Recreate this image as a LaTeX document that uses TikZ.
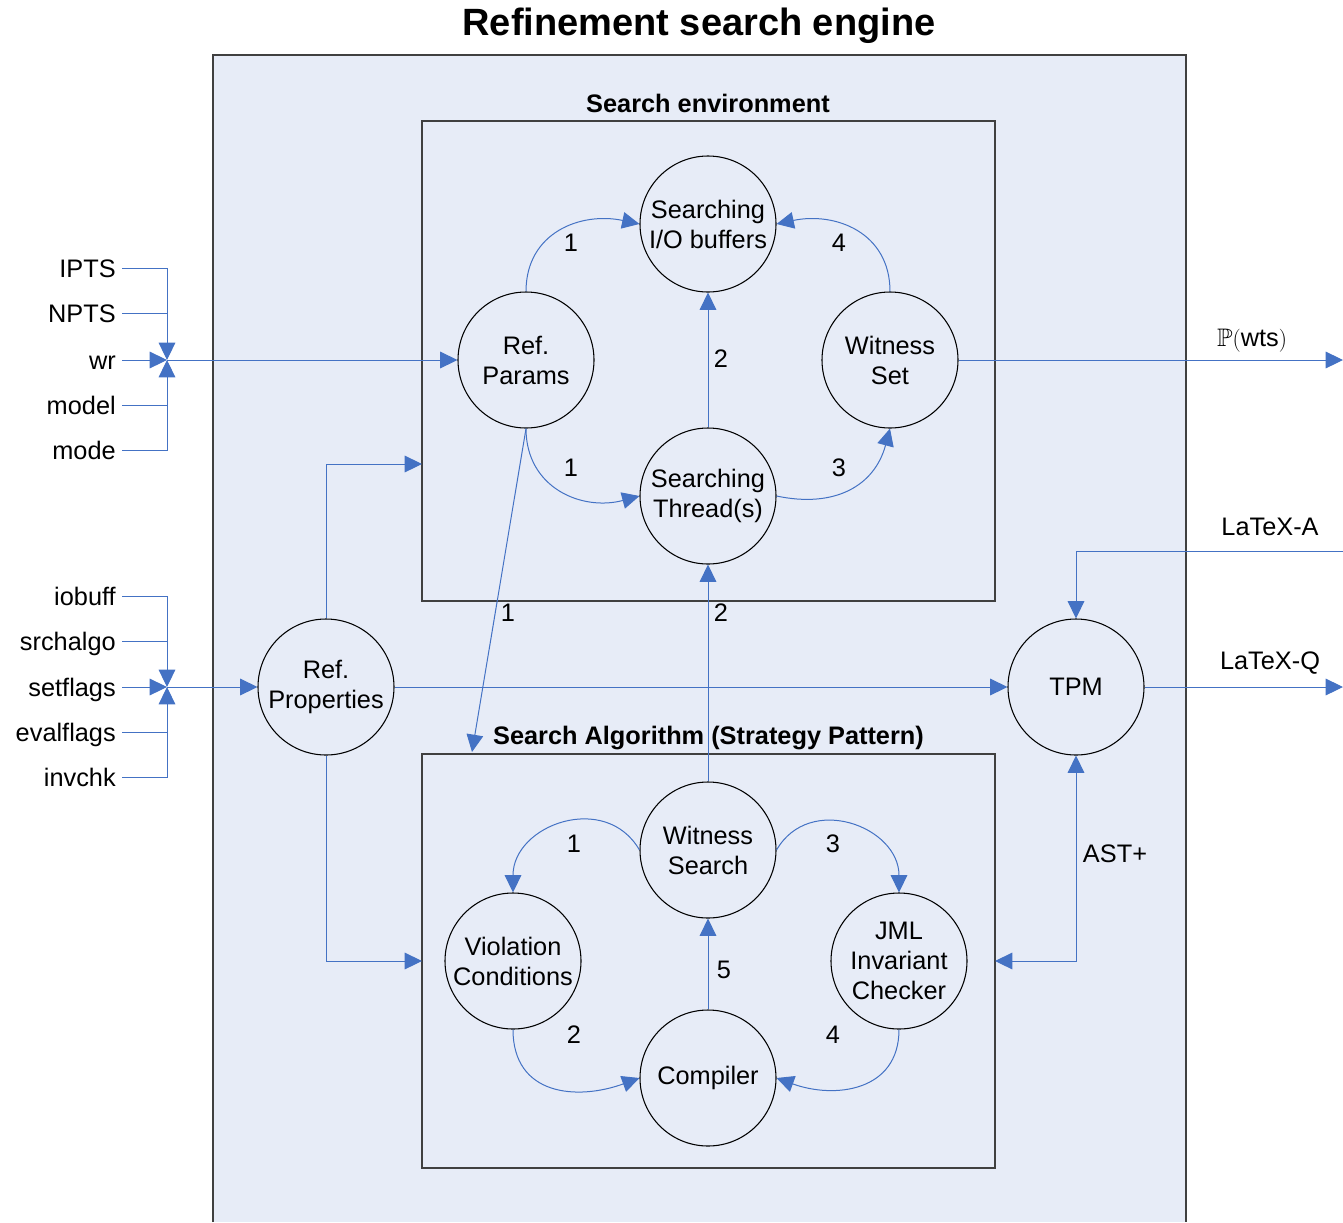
\documentclass[tikz,border=0pt]{standalone}
\usepackage{fontspec}
\usepackage{amssymb}
\setmainfont{Liberation Sans}
\usetikzlibrary{arrows.meta,calc}
\definecolor{panel}{RGB}{231,236,247}
\definecolor{flow}{RGB}{68,114,196}
\definecolor{frame}{RGB}{64,64,64}

\begin{document}
\begin{tikzpicture}[x=0.75pt,y=-0.75pt,
  every node/.style={font=\fontsize{19}{22.5}\selectfont},
  proc/.style={circle,draw=black,line width=0.8pt,minimum size=102pt,inner sep=0pt,align=center},
  area/.style={draw=frame,line width=0.8pt,minimum width=429.75pt,inner sep=0pt},
  heading/.style={font=\fontsize{19}{22.5}\selectfont\bfseries},
  flowline/.style={draw=flow,line width=0.75pt},
  >={Triangle[length=13pt,width=12.5pt]},
  inlab/.style={anchor=east,inner xsep=4.5pt,inner ysep=0pt,text height=13.6pt,text depth=0pt},
  num/.style={inner sep=0pt}
]
\useasboundingbox (0,0) rectangle (1343,1222);

% engine panel (open at the bottom)
\fill[panel] (213,55) rectangle (1186,1222);
\draw[frame,line width=0.8pt] (213,1222) -- (213,55) -- (1186,55) -- (1186,1222);
\node[font=\fontsize{28.5}{32}\selectfont\bfseries] (title) at (699,26) {Refinement search engine};

% sub-areas
\node[area,minimum height=360pt] (env) at (708.5,361) {};
\node[area,minimum height=310.5pt] (alg) at (708.5,961) {};
\node[heading] (envtitle) at (708,103) {Search environment};
\node[heading] (algtitle) at (708.5,738) {Search Algorithm (Strategy Pattern)};

% processes of the search environment
\node[proc] (io) at (708,224) {Searching\\I/O buffers};
\node[proc] (rp) at (526,360) {Ref.\\Params};
\node[proc] (ws) at (890,360) {Witness\\Set};
\node[proc] (th) at (708,496) {Searching\\Thread(s)};

% processes of the search algorithm
\node[proc] (wsr) at (708,850) {Witness\\Search};
\node[proc] (vc) at (513,961) {Violation\\Conditions};
\node[proc] (jml) at (899,961) {JML\\Invariant\\Checker};
\node[proc] (comp) at (708,1078) {Compiler};

% outer processes
\node[proc] (rprop) at (326,687) {Ref.\\Properties};
\node[proc] (tpm) at (1076,687) {TPM};

% parameter inputs
\node[inlab] (ipts) at (122,268) {IPTS};
\node[inlab] (npts) at (122,313) {NPTS};
\node[inlab] (wr) at (122,360) {wr};
\node[inlab] (model) at (122,405) {model};
\node[inlab] (mode) at (122,450) {mode};
\coordinate (j1) at (167,360);

\node[inlab] (iobuff) at (122,596) {iobuff};
\node[inlab] (srchalgo) at (122,641) {srchalgo};
\node[inlab] (setflags) at (122,687) {setflags};
\node[inlab] (evalflags) at (122,732) {evalflags};
\node[inlab] (invchk) at (122,777) {invchk};
\coordinate (j2) at (167,687);

\draw[flowline,->] (ipts.east) -| (j1);
\draw[flowline] (npts.east) -- (npts.east -| j1);
\draw[flowline,->] (wr.east) -- (j1);
\draw[flowline] (model.east) -- (model.east -| j1);
\draw[flowline,->] (mode.east) -| (j1);
\draw[flowline,->] (j1) -- (rp.west);

\draw[flowline,->] (iobuff.east) -| (j2);
\draw[flowline] (srchalgo.east) -- (srchalgo.east -| j2);
\draw[flowline,->] (setflags.east) -- (j2);
\draw[flowline] (evalflags.east) -- (evalflags.east -| j2);
\draw[flowline,->] (invchk.east) -| (j2);
\draw[flowline,->] (j2) -- (rprop.west);

% connection points on the sub-areas and page edge
\coordinate (envL) at (422,464);
\coordinate (algL) at (422,961);
\coordinate (algR) at (995,961);
\coordinate (algT) at (472,752);
\coordinate (outW) at (1343,360);
\coordinate (outA) at (1343,551);
\coordinate (outQ) at (1343,687);

% flows between blocks
\draw[flowline,->] (rprop.north) |- (envL);
\draw[flowline,->] (rprop.south) |- (algL);
\draw[flowline,->] (rprop.east) -- (tpm.west);
\draw[flowline,<->] (tpm.south) |- (algR);
\draw[flowline,->] (outA) -| (tpm.north);
\draw[flowline,->] (tpm.east) -- (outQ);
\draw[flowline,->] (ws.east) -- (outW);
\draw[flowline,->] (wsr.north) -- (th.south);
\draw[flowline,->] (rp.south) -- (algT);

% flows inside the search environment
\draw[flowline,->] (rp.north) to[out=90,in=168,looseness=1.15] (io.west);
\draw[flowline,->] (rp.south) to[out=-90,in=195,looseness=1.15] (th.west);
\draw[flowline,->] (th.east) to[out=-12,in=-105,looseness=1.15] (ws.south);
\draw[flowline,->] (ws.north) to[out=90,in=12,looseness=1.15] (io.east);
\draw[flowline,->] (th.north) -- (io.south);

% flows inside the search algorithm
\draw[flowline,->] (wsr.west) to[out=120,in=90,looseness=1.3] (vc.north);
\draw[flowline,->] (wsr.east) to[out=60,in=90,looseness=1.3] (jml.north);
\draw[flowline,->] (vc.south) to[out=-90,in=200,looseness=1.25] (comp.west);
\draw[flowline,->] (jml.south) to[out=-90,in=-20,looseness=1.2] (comp.east);
\draw[flowline,->] (comp.north) -- (wsr.south);

% step numbers
\node[num] (n1) at (571,243) {1};
\node[num] (n2) at (839,243) {4};
\node[num] (n3) at (721,359) {2};
\node[num] (n4) at (571,468) {1};
\node[num] (n5) at (839,468) {3};
\node[num] (n6) at (508,613) {1};
\node[num] (n7) at (721,613) {2};
\node[num] (n8) at (574,844) {1};
\node[num] (n9) at (833,844) {3};
\node[num] (n10) at (724,970) {5};
\node[num] (n11) at (574,1035) {2};
\node[num] (n12) at (833,1035) {4};

% flow labels
\node (ast) at (1115,854) {AST+};
\node (lxa) at (1270,527) {LaTeX-A};
\node (lxq) at (1270,663) {LaTeX-Q};
\node (pw) at (1252,341) {$\mathbb{P}($wts$)$};
\end{tikzpicture}
\end{document}
